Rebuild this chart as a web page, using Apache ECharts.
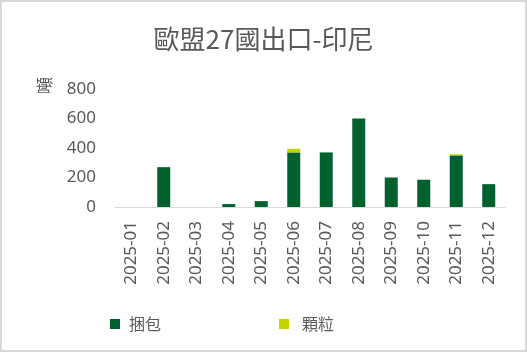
<!DOCTYPE html>
<html>
<head>
<meta charset="utf-8">
<script src="https://cdn.jsdelivr.net/npm/echarts@6/dist/echarts.min.js"></script>
<style>
  html, body { margin: 0; padding: 0; background: #fff; }
  #container { width: 527px; height: 352px; box-sizing: border-box; border: 2px solid #d9d9d9; }
</style>
</head>
<body>
<div id="container"></div>
<script>
var months = ['2025-01', '2025-02', '2025-03', '2025-04', '2025-05', '2025-06',
              '2025-07', '2025-08', '2025-09', '2025-10', '2025-11', '2025-12'];
var bales = [0, 270, 0, 20, 40, 370, 370, 600, 200, 185, 350, 155];   // 捆包
var pellets = [0, 0, 0, 0, 0, 25, 0, 0, 0, 0, 7, 0];                  // 顆粒
var yTicks = [0, 200, 400, 600, 800];

var font = '"Noto Sans", "Noto Sans CJK TC", sans-serif';
var cjk = '"Noto Sans CJK TC", sans-serif';
var grey = '#595959';

var myChart = echarts.init(document.getElementById('container'));
myChart.setOption({
    animation: false,
    textStyle: { fontFamily: font },
    title: {
        text: '歐盟27國出口-印尼',
        left: 'center',
        top: 19,
        textStyle: { fontSize: 26, fontWeight: 'normal', color: grey, fontFamily: cjk }
    },
    legend: [{
        data: ['捆包'],
        icon: 'rect',
        left: 103,
        top: 309,
        itemWidth: 10,
        itemHeight: 10,
        textStyle: { fontSize: 16, color: grey, padding: [0, 0, 0, 4], fontFamily: cjk }
    }, {
        data: ['顆粒'],
        icon: 'rect',
        left: 272,
        top: 309,
        itemWidth: 10,
        itemHeight: 10,
        textStyle: { fontSize: 16, color: grey, padding: [0, 0, 0, 8], fontFamily: cjk }
    }],
    graphic: [{
        type: 'text',
        x: 34,
        y: 92,
        rotation: Math.PI / 2,
        style: { text: '噸', fontSize: 17, fill: grey, fontFamily: cjk }
    }],
    grid: { left: 113, right: 20, top: 87, bottom: 143 },
    xAxis: {
        type: 'category',
        data: months,
        axisLine: { lineStyle: { color: '#d9d9d9', width: 1 } },
        axisTick: { show: false },
        axisLabel: { rotate: 90, interval: 0, margin: 14, fontSize: 17, color: grey }
    },
    yAxis: {
        type: 'value',
        min: yTicks[0],
        max: yTicks[yTicks.length - 1],
        interval: 200,
        axisLine: { show: false },
        axisTick: { show: false },
        splitLine: { show: false },
        axisLabel: { margin: 19, fontSize: 17, color: grey }
    },
    series: [{
        name: '捆包',
        type: 'bar',
        stack: 'total',
        barWidth: '40%',
        itemStyle: { color: '#00612e' },
        data: bales
    }, {
        name: '顆粒',
        type: 'bar',
        stack: 'total',
        barWidth: '40%',
        itemStyle: { color: '#c5d300' },
        data: pellets
    }]
});
</script>
</body>
</html>
